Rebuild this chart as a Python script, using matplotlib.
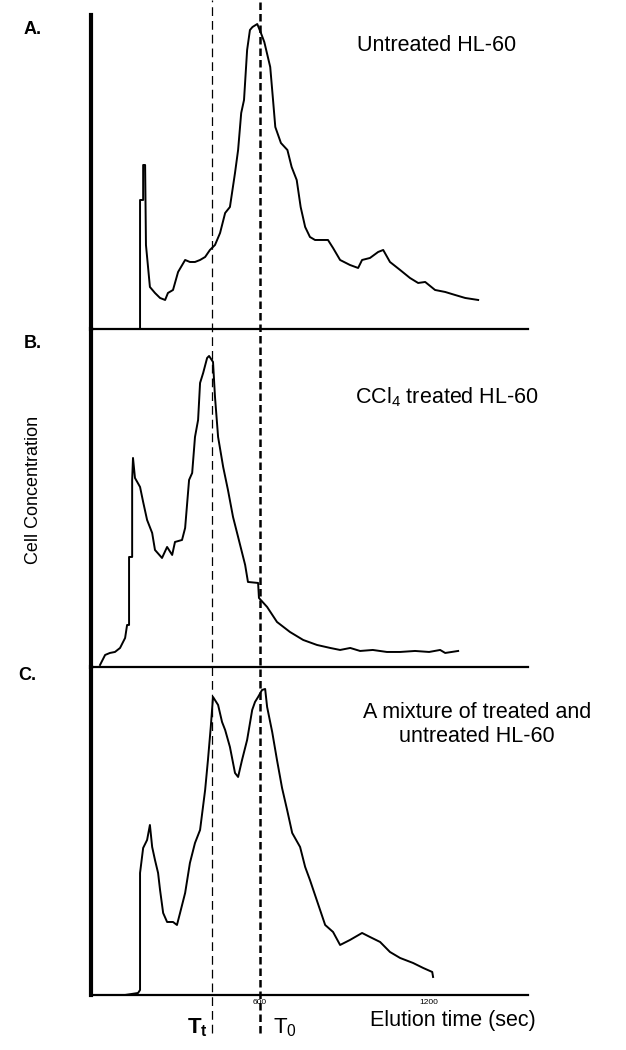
import numpy as np
import matplotlib.pyplot as plt
from matplotlib.lines import Line2D
from matplotlib.transforms import blended_transform_factory

plt.rcParams['font.family'] = ['Liberation Sans', 'DejaVu Sans']
plt.rcParams['mathtext.fontset'] = 'custom'
plt.rcParams['mathtext.rm'] = 'Liberation Sans'
plt.rcParams['mathtext.it'] = 'Liberation Sans'
plt.rcParams['mathtext.bf'] = 'Liberation Sans:bold'

# elution time (sec) vs cell concentration (arbitrary units)
t_a = [156, 174, 174, 185, 185, 192, 195, 209, 227, 245, 263, 273, 291, 309, 334, 351, 369, 387,
       405, 422, 440, 458, 476, 493, 511, 522, 533, 543, 554, 564, 573, 590, 603, 615, 636, 646,
       654, 674, 697, 712, 730, 744, 760, 777, 795, 813, 841, 859, 884, 919, 948, 962, 990, 1019,
       1037, 1061, 1097, 1132, 1161, 1186, 1221, 1257, 1292, 1328, 1374]
c_a = [0, 0, 129, 129, 164, 164, 84, 42, 36, 31, 29, 36, 39, 57, 69, 67, 67, 69,
       72, 79, 84, 96, 116, 122, 156, 179, 216, 229, 279, 299, 302, 305, 296, 287, 262, 229,
       202, 186, 179, 162, 149, 122, 102, 92, 89, 89, 89, 81, 69, 64, 61, 69, 71, 77,
       79, 67, 59, 51, 46, 47, 39, 37, 34, 31, 29]

t_b = [32, 50, 67, 85, 103, 121, 128, 135, 135, 146, 146, 149, 156, 174, 185, 199, 217, 227,
       252, 270, 288, 298, 323, 334, 348, 359, 369, 380, 387, 398, 412, 419, 433, 440, 451, 469,
       486, 504, 522, 547, 557, 593, 596, 625, 660, 706, 753, 802, 849, 884, 920, 955, 1000,
       1050, 1097, 1150, 1200, 1239, 1257, 1303]
c_b = [2, 12, 14, 15, 19, 29, 42, 42, 110, 110, 187, 209, 189, 180, 165, 147, 134, 117,
       109, 120, 112, 125, 127, 139, 187, 194, 230, 247, 284, 294, 309, 311, 305, 270, 230, 200,
       177, 150, 130, 102, 85, 84, 69, 60, 45, 35, 27, 22, 19, 17, 19, 16, 17,
       15, 15, 16, 15, 17, 14, 16]

t_c = [121, 167, 174, 174, 185, 199, 209, 217, 227, 238, 245, 256, 270, 291, 305, 316, 334, 351,
       369, 387, 405, 415, 425, 433, 451, 465, 476, 493, 511, 522, 536, 554, 572, 582, 593, 607,
       618, 625, 643, 660, 678, 696, 714, 742, 760, 777, 795, 813, 831, 859, 884, 919, 962, 990,
       1026, 1061, 1097, 1143, 1179, 1211, 1214]
c_c = [0, 2, 5, 122, 147, 155, 170, 148, 135, 122, 105, 82, 73, 73, 70, 82, 102, 132,
       152, 165, 205, 235, 268, 298, 290, 273, 265, 248, 222, 218, 235, 255, 285, 293, 298, 305,
       306, 288, 263, 235, 207, 185, 162, 148, 128, 115, 100, 85, 70, 63, 50, 55, 62, 58,
       53, 43, 37, 32, 27, 23, 18]

t_treated = 430     # T_t
t_untreated = 600   # T_0
xticks = [600, 1200]

fig = plt.figure(figsize=(6.26, 10.5), dpi=100)
left, width = 0.1454, 0.6981
axA = fig.add_axes([left, 0.6867, width, 0.2990])
axB = fig.add_axes([left, 0.3648, width, 0.3219])
axC = fig.add_axes([left, 0.0524, width, 0.3124])

for ax, t, c, top in [(axA, t_a, c_a, 314), (axB, t_b, c_b, 338), (axC, t_c, c_c, 328)]:
    ax.plot(t, c, color='black', lw=1.4)
    ax.set_xlim(0, 1551)
    ax.set_ylim(0, top)
    ax.spines['top'].set_visible(False)
    ax.spines['right'].set_visible(False)
    ax.spines['left'].set_linewidth(3)
    ax.spines['bottom'].set_linewidth(1.6)
    ax.set_yticks([])
    ax.set_xticks([])
    ax.patch.set_alpha(0)

axC.set_xticks(xticks)
axC.set_xticklabels([str(v) for v in xticks], fontsize=6)
axC.tick_params(axis='x', length=0, pad=3)

# dashed marker lines across all panels
tr = blended_transform_factory(axC.transData, fig.transFigure)
fig.add_artist(Line2D([t_treated, t_treated], [0.016, 1.0], transform=tr,
                      color='black', lw=0.9, dashes=(7, 4)))
fig.add_artist(Line2D([t_untreated, t_untreated], [0.016, 1.0], transform=tr,
                      color='black', lw=1.8, dashes=(3, 1.6)))

fig.text(0.052, 0.972, 'A.', fontsize=13, fontweight='bold', ha='center', va='center')
fig.text(0.052, 0.673, 'B.', fontsize=13, fontweight='bold', ha='center', va='center')
fig.text(0.044, 0.357, 'C.', fontsize=13, fontweight='bold', ha='center', va='center')

fig.text(0.698, 0.957, 'Untreated HL-60', fontsize=15.5, ha='center', va='center')
fig.text(0.714, 0.622, 'CCl$_4$ treated HL-60', fontsize=15.5, ha='center', va='center')
fig.text(0.762, 0.310, 'A mixture of treated and\nuntreated HL-60', fontsize=15.5,
         ha='center', va='center')

fig.text(0.053, 0.533, 'Cell Concentration', fontsize=13, rotation=90,
         ha='center', va='center')
fig.text(0.724, 0.028, 'Elution time (sec)', fontsize=15.5, ha='center', va='center')

fig.text(0.315, 0.021, r'$\mathbf{T_t}$', fontsize=16, ha='center', va='center')
fig.text(0.455, 0.021, r'T$_0$', fontsize=16, ha='center', va='center')

fig.savefig('out.png', dpi=100)
